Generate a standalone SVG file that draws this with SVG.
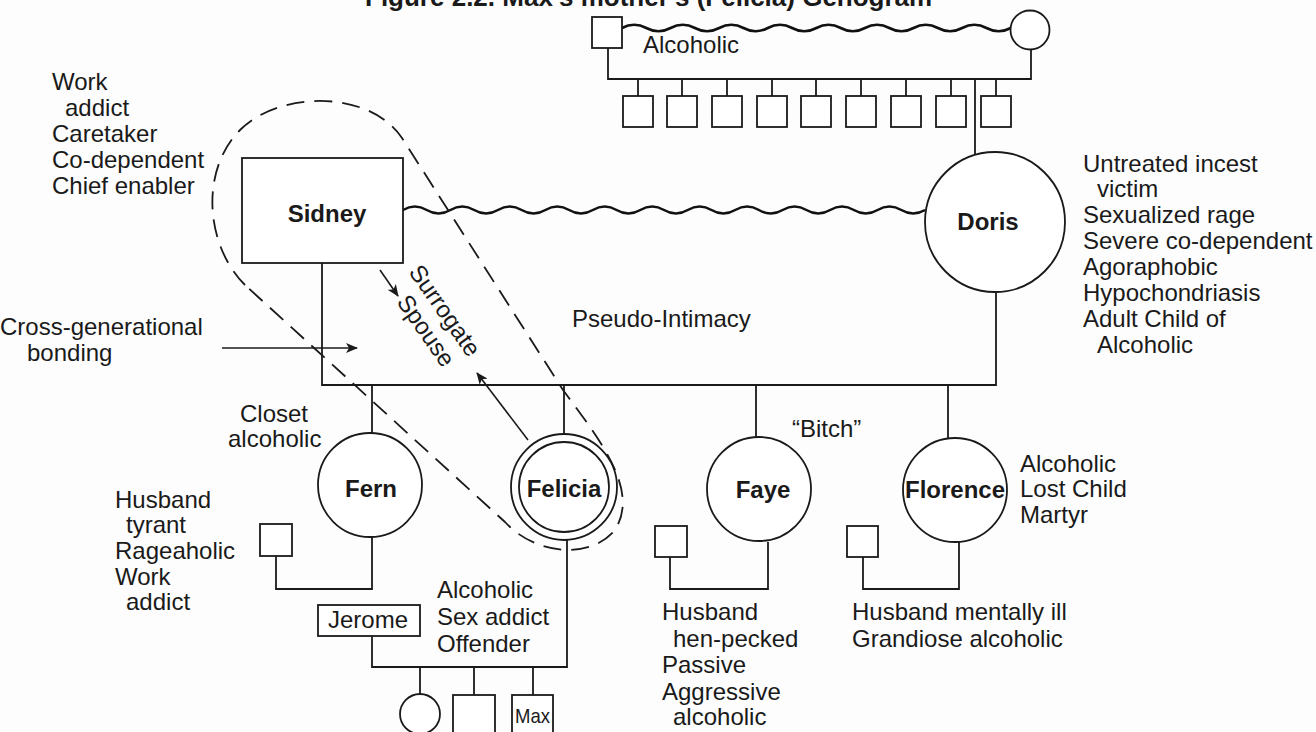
<svg xmlns="http://www.w3.org/2000/svg" width="1316" height="732" viewBox="0 0 1316 732">
<defs>
<style>
text{font-family:"Liberation Sans",Arial,Helvetica,sans-serif;font-size:24px;fill:#1a1a1a}
.b{font-weight:bold}
.m{text-anchor:middle}
.n{fill:#fff;stroke:#1a1a1a;stroke-width:1.8}
.l{fill:none;stroke:#1a1a1a;stroke-width:1.8}
.w{fill:none;stroke:#111;stroke-width:2.6}
.d{fill:none;stroke:#1a1a1a;stroke-width:1.8;stroke-dasharray:18 10}
.a{fill:none;stroke:#1a1a1a;stroke-width:1.6;marker-end:url(#ah)}
</style>
<marker id="ah" viewBox="0 0 12 10" refX="11" refY="5" markerWidth="12" markerHeight="10" markerUnits="userSpaceOnUse" orient="auto">
<path d="M0,0 L12,5 L0,10 L3,5 Z" fill="#1a1a1a"/>
</marker>
</defs>
<rect width="1316" height="732" fill="#fdfdfd"/>
<text class="b" x="365" y="6" style="font-size:26px">Figure 2.2. Max's mother's (Felicia) Genogram</text>

<g id="connectors">
<path class="w" d="M622,28 q12.15,-6.5 24.3,0 t24.3,0 t24.3,0 t24.3,0 t24.3,0 t24.3,0 t24.3,0 t24.3,0 t24.3,0 t24.3,0 t24.3,0 t24.3,0 t24.3,0 t24.3,0 t24.3,0 t24.3,0"/>
<path class="l" d="M608,48 V79 H1031 V50"/>
<path class="l" d="M638,79 V96 M682,79 V96 M727,79 V96 M772,79 V96 M816,79 V96 M861,79 V96 M906,79 V96 M951,79 V96 M996,79 V96"/>
<path class="l" d="M975,79 V155"/>
<path class="w" d="M403,210 q11.86,-7 23.73,0 t23.73,0 t23.73,0 t23.73,0 t23.73,0 t23.73,0 t23.73,0 t23.73,0 t23.73,0 t23.73,0 t23.73,0 t23.73,0 t23.73,0 t23.73,0 t23.73,0 t23.73,0 t23.73,0 t23.73,0 t23.73,0 t23.73,0 t23.73,0 t23.73,0"/>
<path class="l" d="M322,263 V385 H996 V293"/>
<path class="l" d="M372,385 V433 M564,385 V434 M756,385 V437 M948,385 V438"/>
<path class="l" d="M276,556 V589 H372 V537"/>
<path class="l" d="M670,557 V589 H768 V542"/>
<path class="l" d="M863,557 V589 H959 V542"/>
<path class="l" d="M372,636 V667 H567 V540"/>
<path class="l" d="M420,667 V694 M474,667 V695 M533,667 V695"/>
<path class="d" d="M245,285 C205,245 200,170 240,130 C280,90 370,90 402,138 L563,390 C600,440 640,490 615,530 C590,560 535,555 505,522 Z"/>
<path class="a" d="M380,270 L398,296"/>
<path class="a" d="M528,440 L477,373"/>
<path class="a" d="M222,348 H357"/>
</g>

<g id="grandfather"><rect class="n" x="592" y="17" width="30" height="31"/></g>
<g id="grandmother"><circle class="n" cx="1030" cy="30" r="19.5"/></g>
<g id="siblings">
<rect class="n" x="623" y="96" width="30" height="31"/>
<rect class="n" x="667" y="96" width="30" height="31"/>
<rect class="n" x="712" y="96" width="30" height="31"/>
<rect class="n" x="757" y="96" width="30" height="31"/>
<rect class="n" x="801" y="96" width="30" height="31"/>
<rect class="n" x="846" y="96" width="30" height="31"/>
<rect class="n" x="891" y="96" width="30" height="31"/>
<rect class="n" x="936" y="96" width="30" height="31"/>
<rect class="n" x="981" y="96" width="30" height="31"/>
</g>
<text x="643" y="53">Alcoholic</text>

<g id="sidney">
<rect class="n" x="242" y="158" width="161" height="105"/>
<text class="b m" x="327" y="222">Sidney</text>
</g>
<g id="doris">
<circle class="n" cx="995" cy="222" r="70"/>
<text class="b m" x="988" y="230">Doris</text>
</g>
<g id="fern">
<circle class="n" cx="370" cy="485" r="52"/>
<text class="b m" x="371" y="497">Fern</text>
</g>
<g id="felicia">
<circle class="n" cx="564" cy="487" r="53"/>
<circle class="n" cx="564" cy="487" r="45"/>
<text class="b m" x="564" y="497">Felicia</text>
</g>
<g id="faye">
<circle class="n" cx="759" cy="489" r="52"/>
<text class="b m" x="763" y="498">Faye</text>
</g>
<g id="florence">
<circle class="n" cx="955" cy="490" r="52"/>
<text class="b m" x="955" y="498">Florence</text>
</g>
<g id="fern-husband"><rect class="n" x="260" y="524" width="32" height="32"/></g>
<g id="faye-husband"><rect class="n" x="655" y="526" width="32" height="31"/></g>
<g id="florence-husband"><rect class="n" x="847" y="526" width="31" height="31"/></g>
<g id="jerome">
<rect class="n" x="318" y="605" width="102" height="31"/>
<text x="328" y="628">Jerome</text>
</g>
<g id="daughter"><circle class="n" cx="420" cy="714" r="20"/></g>
<g id="son"><rect class="n" x="453" y="695" width="42" height="42"/></g>
<g id="max">
<rect class="n" x="512" y="695" width="41" height="42"/>
<text x="515" y="723" style="font-size:21px" textLength="35" lengthAdjust="spacingAndGlyphs">Max</text>
</g>

<g id="labels">
<text x="52" y="90">Work</text>
<text x="65" y="116">addict</text>
<text x="52" y="142">Caretaker</text>
<text x="52" y="168">Co-dependent</text>
<text x="52" y="194">Chief enabler</text>

<text x="1083" y="172">Untreated incest</text>
<text x="1097" y="197">victim</text>
<text x="1083" y="223">Sexualized rage</text>
<text x="1083" y="249">Severe co-dependent</text>
<text x="1083" y="275">Agoraphobic</text>
<text x="1083" y="301">Hypochondriasis</text>
<text x="1083" y="327">Adult Child of</text>
<text x="1097" y="353">Alcoholic</text>

<text x="0" y="335">Cross-generational</text>
<text x="27" y="361">bonding</text>

<text x="572" y="327">Pseudo-Intimacy</text>
<text transform="translate(408,272) rotate(55)">Surrogate</text>
<text transform="translate(396,302) rotate(55)">Spouse</text>

<text x="240" y="422">Closet</text>
<text x="228" y="447">alcoholic</text>

<text x="115" y="508">Husband</text>
<text x="126" y="533">tyrant</text>
<text x="115" y="559">Rageaholic</text>
<text x="115" y="585">Work</text>
<text x="126" y="610">addict</text>

<text x="437" y="598">Alcoholic</text>
<text x="437" y="625">Sex addict</text>
<text x="437" y="652">Offender</text>

<text x="792" y="437">“Bitch”</text>

<text x="1020" y="472">Alcoholic</text>
<text x="1020" y="497">Lost Child</text>
<text x="1020" y="523">Martyr</text>

<text x="662" y="620">Husband</text>
<text x="673" y="647">hen-pecked</text>
<text x="662" y="673">Passive</text>
<text x="662" y="700">Aggressive</text>
<text x="673" y="725">alcoholic</text>

<text x="852" y="620">Husband mentally ill</text>
<text x="852" y="647">Grandiose alcoholic</text>
</g>
</svg>
